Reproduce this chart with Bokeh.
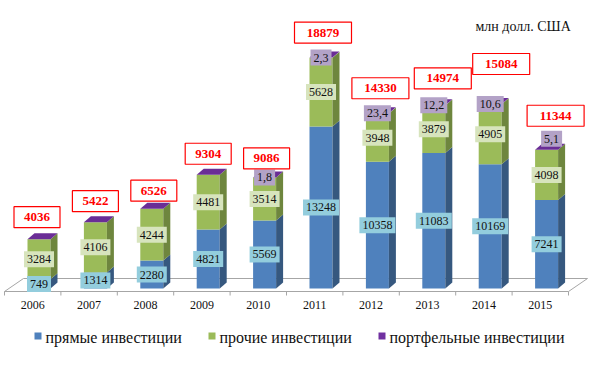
from bokeh.plotting import figure
from bokeh.models import Range1d
from bokeh.embed import file_html
from bokeh.resources import INLINE
from bokeh.core.properties import value

# ---------------- data ----------------
years = ["2006", "2007", "2008", "2009", "2010", "2011", "2012", "2013", "2014", "2015"]
direct = [749, 1314, 2280, 4821, 5569, 13248, 10358, 11083, 10169, 7241]
other = [3284, 4106, 4244, 4481, 3514, 5628, 3948, 3879, 4905, 4098]
portfolio = [None, None, None, None, 1.8, 2.3, 23.4, 12.2, 10.6, 5.1]
totals = [4036, 5422, 6526, 9304, 9086, 18879, 14330, 14974, 15084, 11344]
series_names = ["прямые инвестиции", "прочие инвестиции", "портфельные инвестиции"]
unit_label = "млн долл. США"

# ---------------- layout helpers (pixel -> data) ----------------
W, H = 590, 367
PAGE_OFF = 0
SLOT_PX = 56.4          # pixels per category slot
KY = 0.01223            # pixels per value unit
X_ORIG = 4              # page x of slot 0
Y_ORIG = 288            # page y of value 0


def ix(px):
    return (px - X_ORIG) / SLOT_PX


def iy(py):
    return (Y_ORIG - py) / KY


def dxp(px):
    return px / SLOT_PX


def dyp(py):
    return py / KY


FONT = value("Liberation Serif")

p = figure(width=W, height=H, x_range=Range1d(ix(PAGE_OFF), ix(PAGE_OFF + W)),
           y_range=Range1d(iy(PAGE_OFF + H), iy(PAGE_OFF)), output_backend="svg",
           toolbar_location=None, x_axis_type=None, y_axis_type=None,
           min_border=0)
p.grid.visible = False
p.outline_line_color = None
p.background_fill_color = "white"

n = len(years)

# ---------------- floor ----------------
fl_front = iy(291)
fl_back = iy(278)
fdx = dxp(19)
floor_xs = [[0, n], [fdx, n + fdx], [0, fdx], [n, n + fdx]]
floor_ys = [[fl_front, fl_front], [fl_back, fl_back], [fl_front, fl_back], [fl_front, fl_back]]
p.multi_line(floor_xs, floor_ys, line_color="#A6A6A6", line_width=1)
tick_xs = [[k, k] for k in range(n + 1)]
tick_ys = [[fl_front, fl_front - dyp(4)] for _ in range(n + 1)]
p.multi_line(tick_xs, tick_ys, line_color="#A6A6A6", line_width=1)

# ---------------- bars ----------------
BAR_OFF = dxp(23)
BAR_W = dxp(23)
DX = dxp(7)
DY = dyp(6)

lefts = [i + BAR_OFF for i in range(n)]
rights = [l + BAR_W for l in lefts]
tops_d = direct
tops_o = [d + o for d, o in zip(direct, other)]
tops_all = [t + (pf or 0) for t, pf in zip(tops_o, portfolio)]


def side(l, r, b, t):
    return [r, r + DX, r + DX, r], [b, b + DY, t + DY, t]


# blue
p.quad(left=lefts, right=rights, bottom=[0] * n, top=tops_d,
       fill_color="#4F81BD", line_color=None)
sx, sy = zip(*[side(l, r, 0, t) for l, r, t in zip(lefts, rights, tops_d)])
p.patches(list(sx), list(sy), fill_color="#36587F", line_color=None)
# green
p.quad(left=lefts, right=rights, bottom=tops_d, top=tops_o,
       fill_color="#9BBB59", line_color=None)
sx, sy = zip(*[side(l, r, b, t) for l, r, b, t in zip(lefts, rights, tops_d, tops_o)])
p.patches(list(sx), list(sy), fill_color="#6E863E", line_color=None)
# purple top face
tx = [[l, r, r + DX, l + DX] for l, r in zip(lefts, rights)]
ty = [[t, t, t + DY, t + DY] for t in tops_all]
p.patches(tx, ty, fill_color="#6A2D96", line_color=None)

centers = [l + BAR_W / 2 for l in lefts]

# ---------------- year labels ----------------
p.text(x=[i + 0.5 for i in range(n)], y=[iy(304)] * n, text=years,
       text_font=FONT, text_font_size="12px", text_align="center",
       text_baseline="middle", text_color="#111111")


def fmt(v):
    return ("%g" % v).replace(".", ",")


def label_boxes(xs, ys, texts, fill):
    widths = [6 * sum(c.isdigit() for c in t) + 3 * t.count(",") + 6 for t in texts]
    p.rect(x=xs, y=ys, width=widths, height=[16] * len(xs), width_units="screen",
           height_units="screen", fill_color=fill, line_color=None)
    p.text(x=xs, y=ys, text=texts, text_font=FONT, text_font_size="12px",
           text_align="center", text_baseline="middle", text_color="#111111")


# blue labels
label_boxes(centers, [d / 2 for d in direct], [fmt(d) for d in direct], "#93CDDD")
# green labels
label_boxes(centers, [d + o / 2 for d, o in zip(direct, other)], [fmt(o) for o in other], "#D7E4BD")
# purple labels (only those given)
pf_nudge_px = {9: (5, -11)}
pxs, pys, ptx = [], [], []
for i, pf in enumerate(portfolio):
    if pf is None:
        continue
    ddx, ddy = pf_nudge_px.get(i, (0, 0))
    pxs.append(centers[i] + dxp(ddx))
    pys.append(tops_all[i] - dyp(ddy))
    ptx.append(fmt(pf))
label_boxes(pxs, pys, ptx, "#B3A2C7")

# ---------------- totals ----------------
tot_up_px = [22, 21, 18, 21, 19, 25, 25, 27, 40, 34]
tot_dx_px = [-2, 0, 2, 0, 2, 2, 3, 9, 11, 9]
txs = [c + dxp(d) for c, d in zip(centers, tot_dx_px)]
tys = [t + dyp(u) for t, u in zip(tops_all, tot_up_px)]
tw = [11 * len(str(t)) + 2 for t in totals]
p.rect(x=txs, y=tys, width=tw, height=[21] * n, width_units="screen",
       height_units="screen", fill_color="white", line_color="#FF0000", line_width=1.2)
p.text(x=txs, y=tys, text=[str(t) for t in totals], text_font=FONT,
       text_font_size="13px", text_font_style="bold", text_align="center",
       text_baseline="middle", text_color="#FF0000")

# ---------------- unit label ----------------
p.text(x=[ix(475)], y=[iy(26)], text=[unit_label], text_font=FONT,
       text_font_size="14px", text_align="left", text_baseline="middle",
       text_color="#111111")

# ---------------- legend ----------------
leg_colors = ["#4F81BD", "#9BBB59", "#7030A0"]
leg_sq_px = [37.5, 211.5, 381.5]
p.rect(x=[ix(v) for v in leg_sq_px], y=[iy(335.5)] * 3, width=[7] * 3, height=[7] * 3,
       width_units="screen", height_units="screen", fill_color=leg_colors, line_color=None)
p.text(x=[ix(v + 7.5) for v in leg_sq_px], y=[iy(337)] * 3, text=series_names,
       text_font=FONT, text_font_size="16px", text_align="left",
       text_baseline="middle", text_color="#111111")

open("out.html", "w").write(file_html(p, INLINE))
